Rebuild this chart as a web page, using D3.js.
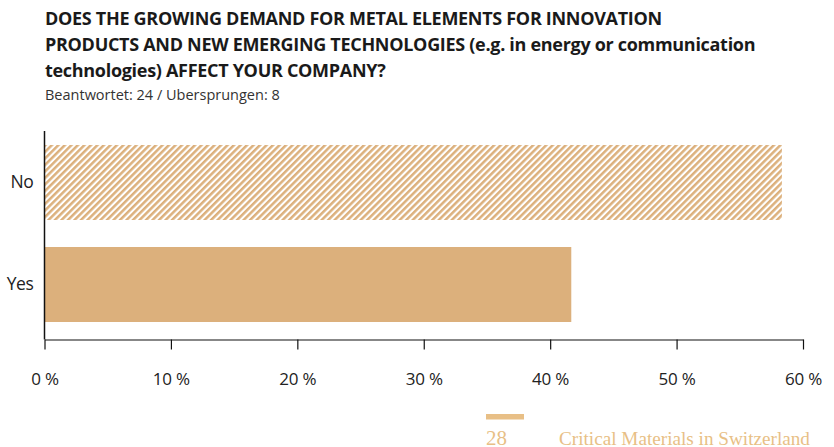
<!DOCTYPE html>
<html>
<head>
<meta charset="utf-8">
<script src="https://cdn.jsdelivr.net/npm/d3@7"></script>
<style>
  html, body { margin: 0; padding: 0; background: #fff; }
  svg { display: block; }
</style>
</head>
<body>
<svg id="chart" width="834" height="447"></svg>
<script>
// Survey answers, share of respondents in percent
const categories = ["No", "Yes"];
const values = [58.33, 41.67];
const patterns = ["hatch", "solid"];
const xTicks = [0, 10, 20, 30, 40, 50, 60];

const titleLines = [
  "DOES THE GROWING DEMAND FOR METAL ELEMENTS FOR INNOVATION",
  "PRODUCTS AND NEW EMERGING TECHNOLOGIES (e.g. in energy or communication",
  "technologies) AFFECT YOUR COMPANY?"
];
const subtitle = "Beantwortet: 24 / Ubersprungen: 8";
const pageNumber = "28";
const footerText = "Critical Materials in Switzerland";

const tan = "#dcb07c";
const footerTan = "#e8bf86";
const sans = "'Open Sans', 'Noto Sans', sans-serif";
const serif = "'Liberation Serif', 'DejaVu Serif', serif";

const svg = d3.select("#chart");

// Diagonal hatch fill
const defs = svg.append("defs");
const pat = defs.append("pattern")
  .attr("id", "hatch")
  .attr("patternUnits", "userSpaceOnUse")
  .attr("width", 4.6).attr("height", 4.6)
  .attr("patternTransform", "rotate(45)");
pat.append("rect").attr("width", 4.6).attr("height", 4.6).attr("fill", "#fff");
pat.append("rect").attr("x", 0).attr("width", 2.5).attr("height", 4.6).attr("fill", tan);

// Title block
const title = svg.append("g").attr("font-family", sans).attr("fill", "#1a1a1a");
title.selectAll("text.t")
  .data(titleLines)
  .join("text")
  .attr("class", "t")
  .attr("x", 45)
  .attr("y", (d, i) => 25 + i * 26)
  .attr("font-size", 18)
  .attr("font-weight", 700)
  .attr("letter-spacing", -0.3)
  .text(d => d);
title.append("text")
  .attr("x", 45).attr("y", 100)
  .attr("font-size", 14.5)
  .attr("fill", "#333")
  .text(subtitle);

// Plot area
const margin = { left: 44.5, right: 31, top: 131 };
const width = 834 - margin.left - margin.right;
const axisY = 339.5;

const x = d3.scaleLinear().domain([0, 60]).range([margin.left, margin.left + width]);
const y = d3.scaleBand().domain(categories).range([124.6, 342.4]).paddingInner(0.2647).paddingOuter(0.2);

const data = categories.map((c, i) => ({ cat: c, value: values[i], fill: patterns[i] }));

svg.append("g")
  .selectAll("rect")
  .data(data)
  .join("rect")
  .attr("x", x(0))
  .attr("y", d => y(d.cat))
  .attr("width", d => x(d.value) - x(0))
  .attr("height", y.bandwidth())
  .attr("fill", d => d.fill === "hatch" ? "url(#hatch)" : tan);

// Category axis
const yAxis = svg.append("g")
  .attr("transform", `translate(${margin.left},0)`)
  .call(d3.axisLeft(y).tickSize(0).tickPadding(11));
yAxis.select(".domain").attr("d", `M0,${margin.top}V${axisY}`).attr("stroke", "#111").attr("stroke-width", 1.5);
yAxis.selectAll("text").attr("font-family", sans).attr("font-size", 17.5).attr("fill", "#222")
  .attr("letter-spacing", -0.4);

// Value axis
const xAxis = svg.append("g")
  .attr("transform", `translate(0,${axisY})`)
  .call(d3.axisBottom(x).tickValues(xTicks).tickSize(10).tickSizeOuter(0).tickPadding(23)
    .tickFormat(d => d + " %"));
xAxis.select(".domain").attr("stroke", "#111").attr("stroke-width", 1.2);
xAxis.selectAll(".tick line").attr("stroke", "#111").attr("stroke-width", 1.2);
xAxis.selectAll("text").attr("font-family", sans).attr("font-size", 17).attr("fill", "#222")
  .attr("letter-spacing", -0.2);

// Page footer
svg.append("rect")
  .attr("x", 486).attr("y", 414).attr("width", 38).attr("height", 5.5)
  .attr("fill", footerTan);
svg.append("text")
  .attr("x", 486).attr("y", 445)
  .attr("font-family", serif)
  .attr("font-size", 21).attr("fill", footerTan)
  .text(pageNumber);
svg.append("text")
  .attr("x", 559).attr("y", 445)
  .attr("font-family", serif)
  .attr("font-size", 19.2).attr("fill", footerTan)
  .text(footerText);
</script>
</body>
</html>
